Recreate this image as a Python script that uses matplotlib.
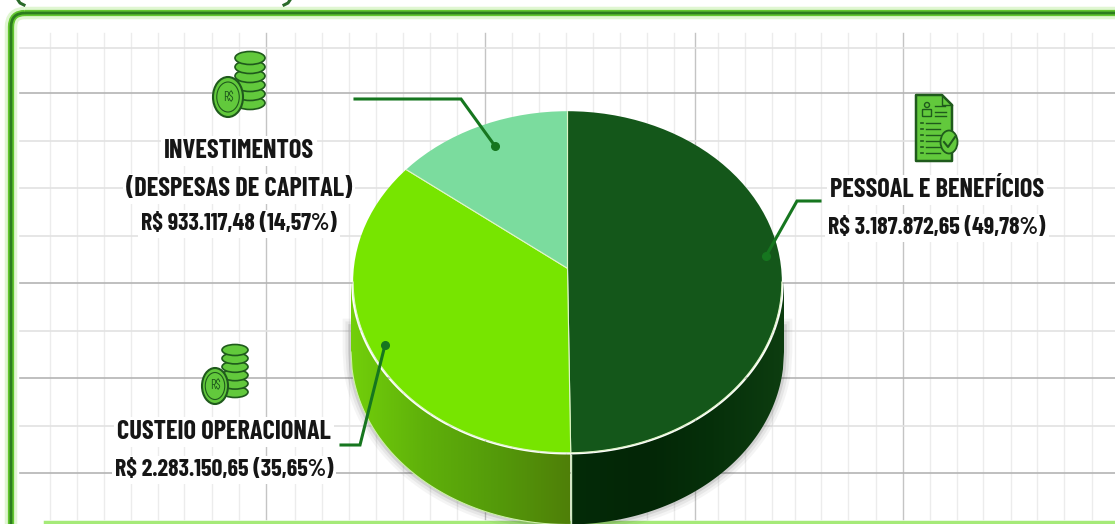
import numpy as np
import matplotlib
matplotlib.use("Agg")
import matplotlib.pyplot as plt
from matplotlib.colors import LinearSegmentedColormap
from matplotlib.patches import Ellipse, FancyBboxPatch, Polygon, Circle

# dados
categorias = ["PESSOAL E BENEFÍCIOS", "CUSTEIO OPERACIONAL", "INVESTIMENTOS (DESPESAS DE CAPITAL)"]
valores = [3187872.65, 2283150.65, 933117.48]
cores = ["#14571a", "#77e500", "#7bdc9e"]
rotulos_pessoal = ["PESSOAL E BENEFÍCIOS", "R$ 3.187.872,65 (49,78%)"]
rotulos_custeio = ["CUSTEIO OPERACIONAL", "R$ 2.283.150,65 (35,65%)"]
rotulos_invest = ["INVESTIMENTOS", "(DESPESAS DE CAPITAL)", "R$ 933.117,48 (14,57%)"]

W, H = 1115, 524
fig = plt.figure(figsize=(W / 100, H / 100), dpi=100, facecolor="white")
ax = fig.add_axes([0, 0, 1, 1])
ax.set_xlim(0, W)
ax.set_ylim(H, 0)
ax.axis("off")

# grade de fundo
grade_v = [50, 77, 104, 131, 158, 184, 212, 239, 295, 322, 349, 376, 403, 430, 457, 512,
           539, 566, 593, 620, 647, 674, 718, 745, 772, 795, 821, 848, 876, 930, 957, 983,
           1011, 1037, 1064, 1092]
grade_v_forte = [266, 485, 695, 903]
grade_h = [48, 141, 188, 236, 331, 426]
grade_h_forte = [93, 283, 378, 473]
for x in grade_v:
    ax.plot([x, x], [33, 519], color="#ececec", lw=1, zorder=1)
for x in grade_v_forte:
    ax.plot([x, x], [33, 519], color="#c4c4c4", lw=1, zorder=1)
for y in grade_h:
    ax.plot([20, W], [y, y], color="#e2e2e2", lw=1.2, zorder=1)
for y in grade_h_forte:
    ax.plot([20, W], [y, y], color="#b4b4b4", lw=1.2, zorder=1)

# moldura verde
for lw, cor, alpha in [(9, "#9be36a", 0.3), (4.5, "#63c72f", 1), (2, "#2c7d1e", 1)]:
    ax.add_patch(FancyBboxPatch((11, 13), W + 40, 600, boxstyle="round,pad=0,rounding_size=14",
                                fc="none", ec=cor, lw=lw, alpha=alpha, zorder=2))
ax.plot([45, W], [522, 522], color="#a5ea78", lw=2.5, zorder=2)

# pontas dos parenteses do titulo cortado
ax.plot([18, 20, 24], [0, 3, 5], color="#2a6a2a", lw=2.2, zorder=3)
ax.plot([290, 288, 284], [0, 3, 5], color="#2a6a2a", lw=2.2, zorder=3)

# pizza
cx, cy, rx, ry = 567.5, 282.0, 216.5, 172.5
altura = 70
centro_y = 0.08  # vertice das fatias fica acima do centro da elipse

# ponto onde a divisa pessoal/custeio encontra a borda
theta = 2 * np.pi * valores[0] / sum(valores)
sx, sy = np.sin(theta), np.cos(theta)
b = sy * centro_y
t = -b + np.sqrt(b**2 - (centro_y**2 - 1))
x_div = cx + rx * t * sx

xs = np.linspace(cx - rx, cx + rx, 400)
ys = cy + ry * np.sqrt(np.clip(1 - ((xs - cx) / rx) ** 2, 0, 1))

# sombra
for lw, alpha in [(12, 0.05), (8, 0.07), (4, 0.12)]:
    ax.plot(np.r_[cx - rx, xs, cx + rx], np.r_[cy + 45, ys + altura, cy + 45], color="#333333",
            lw=lw, alpha=alpha, zorder=3)


def parede(x0, x1, lista_cores):
    m = (xs >= x0) & (xs <= x1)
    xp = np.r_[xs[m], xs[m][::-1]]
    yp = np.r_[ys[m], ys[m][::-1] + altura]
    poly = Polygon(np.c_[xp, yp], closed=True, fc="none", ec="none", transform=ax.transData)
    ax.add_patch(poly)
    cmap = LinearSegmentedColormap.from_list("p", lista_cores)
    im = ax.imshow(np.linspace(0, 1, 256)[None, :], cmap=cmap, aspect="auto",
                   extent=[x0, x1, cy + ry + altura, cy], zorder=4)
    im.set_clip_path(poly)


parede(cx - rx, x_div, ["#72cf0a", "#5fb00a", "#549a0a", "#4f7f08"])
parede(x_div, cx + rx, ["#042b08", "#032606", "#06300a", "#0d3d10"])
ax.set_xlim(0, W)
ax.set_ylim(H, 0)
ax.plot([x_div, x_div], [cy + ry, H], color="#cfe8c0", lw=1, zorder=5)
ax.plot(xs[xs < x_div], ys[xs < x_div] + altura, color="#cdf0a8", lw=0.8, zorder=5)

# face de cima
ax_p = fig.add_axes([(cx - rx) / W, 1 - (cy + ry) / H, 2 * rx / W, 2 * ry / H], zorder=2)
fatias, _ = ax_p.pie(valores, colors=cores, startangle=90, counterclock=False,
                     center=(0, centro_y), radius=1.6,
                     wedgeprops={"edgecolor": "#dff5c8", "linewidth": 0.8})
ax_p.set_aspect("auto")
ax_p.set_xlim(-1.01, 1.01)
ax_p.set_ylim(-1.01, 1.01)
ax_p.axis("off")
ax_p.patch.set_alpha(0)
borda = Ellipse((0, 0), 2, 2, transform=ax_p.transData, fc="none", ec="none")
ax_p.add_patch(borda)
for f in fatias:
    f.set_clip_on(True)
    f.set_clip_path(borda)
tt = np.linspace(np.pi, 2 * np.pi, 200)
ax_p.plot(np.cos(tt), np.sin(tt), color="#dff5c8", lw=0.8)

# camada de cima para linhas e textos
ax_t = fig.add_axes([0, 0, 1, 1], zorder=3)
ax_t.set_xlim(0, W)
ax_t.set_ylim(H, 0)
ax_t.axis("off")
ax_t.patch.set_alpha(0)

fonte = ["Barlow Condensed", "Roboto Condensed", "Liberation Sans", "DejaVu Sans"]


def rotulo(linhas, x, ys_l):
    for s, y in zip(linhas, ys_l):
        tam = 17.3 if s.startswith("R$") else 19
        ax_t.text(x, y, s, family=fonte, fontsize=tam, fontweight="bold", color="#161616",
                  ha="center", va="center", zorder=6,
                  bbox=dict(fc="white", ec="none", pad=2))


rotulo(rotulos_invest, 239, [151, 189, 224])
rotulo(rotulos_pessoal, 937, [190, 228])
rotulo(rotulos_custeio, 224, [432, 470])

# linhas de chamada
chamadas = [([355, 461, 495], [99, 99, 146]),
            ([820, 797, 766], [201, 201, 256]),
            ([341, 360, 385], [445, 445, 345])]
for xc, yc in chamadas:
    ax_t.plot(xc, yc, color="#16761f", lw=2.2, solid_joinstyle="miter", zorder=7)
    ax_t.plot(xc[-1], yc[-1], "o", color="#16761f", ms=5.5, zorder=7)


# icones
def moedas(xs_p, y_topo, y_base, xm, ym, rxm, rym, rxp, ryp):
    verde, esc = "#62c93c", "#1f5a1c"
    n = 6
    for y in np.linspace(y_base, y_topo, n):
        ax_t.add_patch(Ellipse((xs_p, y), 2 * rxp, 2 * ryp, fc=verde, ec=esc, lw=1.2, zorder=6))
    ax_t.add_patch(Ellipse((xm, ym), 2 * rxm, 2 * rym, fc=verde, ec=esc, lw=1.5, zorder=6))
    ax_t.add_patch(Ellipse((xm, ym), 1.5 * rxm, 1.5 * rym, fc=verde, ec=esc, lw=0.8, zorder=6))
    ax_t.text(xm, ym, "R$", fontsize=9, ha="center", va="center", color=esc, zorder=7,
              family=fonte)


moedas(250, 58, 103, 228, 97, 15, 20, 15, 6.5)
moedas(235, 350, 392, 215, 386, 13, 18, 13, 5.5)

esc = "#1f5a1c"
ax_t.add_patch(Polygon([[916, 95], [942, 95], [952, 105], [952, 161], [916, 161]], closed=True,
                       fc="#62c93c", ec=esc, lw=1.8, joinstyle="round", zorder=6))
ax_t.plot([942, 942, 952], [95, 105, 105], color=esc, lw=1, zorder=6)
ax_t.add_patch(Circle((927, 105), 2.5, fc="#62c93c", ec=esc, lw=1, zorder=7))
ax_t.add_patch(FancyBboxPatch((923, 110), 8, 6, boxstyle="round,pad=0.5", fc="#62c93c", ec=esc, lw=1, zorder=7))
for y0, x1 in [(106, 945), (112, 946), (116, 946)]:
    ax_t.plot([935, x1], [y0, y0], color=esc, lw=1, zorder=7)
for y0 in [123, 129, 135, 141, 147, 153]:
    ax_t.plot([921, 923], [y0, y0], color=esc, lw=1.2, zorder=7)
    ax_t.plot([926, 940], [y0, y0], color=esc, lw=1, zorder=7)
ax_t.add_patch(Ellipse((949, 142), 17, 23, fc="#62c93c", ec=esc, lw=1.3, zorder=7))
ax_t.plot([944, 948, 955], [142, 147, 137], color=esc, lw=1.5, zorder=8)

fig.savefig("out.png", dpi=100)
